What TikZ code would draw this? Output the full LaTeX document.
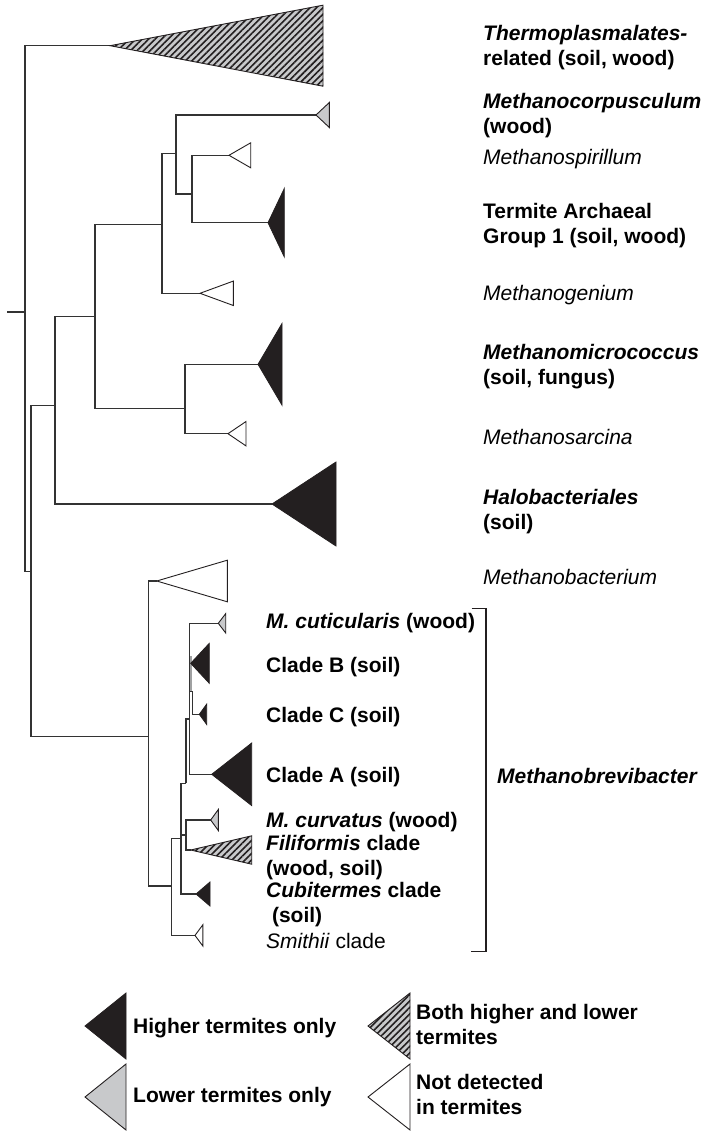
\documentclass[tikz,border=0pt]{standalone}
\usepackage{fontspec}
\setmainfont{Liberation Sans}
\usetikzlibrary{patterns.meta}

\definecolor{inkblack}{HTML}{231F20}
\definecolor{lowgray}{HTML}{C8C9CB}
\definecolor{branch}{HTML}{333333}

\tikzset{
  branchline/.style={draw=branch, line width=1.2pt},
  higher/.style={fill=inkblack, draw=inkblack, line width=0.8pt, line join=miter},
  lower/.style={fill=lowgray, draw=inkblack, line width=0.9pt},
  absent/.style={fill=white, draw=inkblack, line width=0.9pt},
  hatchfill/.style={pattern={Lines[angle=45,distance=4.6pt,line width=1.6pt]}, pattern color=inkblack},
  taxon/.style={anchor=west, align=left, inner sep=0pt, font=\fontsize{21}{25}\selectfont},
}

% collapsed clade: style, apex coordinate, length, half height
\newcommand\cladetri[4]{%
  \path[#1] (#2) -- ++(#3,-#4) -- ++(0,2*#4) -- cycle;}
% collapsed clade found in both termite groups (grey ground, hatched)
\newcommand\bothtri[3]{%
  \path[fill=lowgray] (#1) -- ++(#2,-#3) -- ++(0,2*#3) -- cycle;
  \path[hatchfill] (#1) -- ++(#2,-#3) -- ++(0,2*#3) -- cycle;
  \path[draw=inkblack, line width=0.9pt] (#1) -- ++(#2,-#3) -- ++(0,2*#3) -- cycle;}

\begin{document}
\begin{tikzpicture}[x=1pt, y=-1pt]
\useasboundingbox (0,0) rectangle (707,1131);

% ---------- tips (apex of each collapsed clade) ----------
\coordinate (tThermo) at (110,45.7);
\coordinate (tMcorp)  at (316,115);
\coordinate (tMspir)  at (229,155.3);
\coordinate (tTAG)    at (268,222.7);
\coordinate (tMgen)   at (200,293.3);
\coordinate (tMmicro) at (258,364.3);
\coordinate (tMsarc)  at (228,433.7);
\coordinate (tHalo)   at (272,504);
\coordinate (tMbact)  at (156.7,581);
\coordinate (tCutic)  at (218.3,623.3);
\coordinate (tCladeB) at (190.7,663.3);
\coordinate (tCladeC) at (199.3,714.3);
\coordinate (tCladeA) at (211.7,774.3);
\coordinate (tCurv)   at (210.7,820);
\coordinate (tFilif)  at (190.7,850);
\coordinate (tCubi)   at (196,894);
\coordinate (tSmith)  at (195,935.4);

% ---------- internal nodes ----------
\coordinate (stub) at (7,312);
\coordinate (root) at (25,312);
\coordinate (nA) at (31,571.7);
\coordinate (nB) at (55,405.7);
\coordinate (nC) at (95,316.7);
\coordinate (nD) at (162,224.7);
\coordinate (nE) at (185,408.7);
\coordinate (nF) at (176,153.3);
\coordinate (nG) at (192,194);
\coordinate (nM) at (148.3,736.7);
\coordinate (nN) at (171.7,886);
\coordinate (nP) at (181,838.3);
\coordinate (nQ) at (186,783.3);
\coordinate (nR) at (186,835);
\coordinate (nS) at (189.3,719);
\coordinate (nT) at (192.7,691.7);

% ---------- branches ----------
\draw[branchline] (stub) -- (root);
\draw[branchline] (tThermo) -| (root) |- (nA);
\draw[branchline] (nB) -| (nA) |- (nM);
\draw[branchline] (nC) -| (nB) |- (tHalo);
\draw[branchline] (nD) -| (nC) |- (nE);
\draw[branchline] (tMmicro) -| (nE) |- (tMsarc);
\draw[branchline] (nF) -| (nD) |- (tMgen);
\draw[branchline] (tMcorp) -| (nF) |- (nG);
\draw[branchline] (tMspir) -| (nG) |- (tTAG);

\draw[branchline] (tMbact) -| (nM) |- (nN);
\draw[branchline] (nP) -| (nN) |- (tSmith);
\draw[branchline] (nQ) -| (nP) |- (tCubi);
\draw[branchline] (nR) -- (nP |- nR);
\draw[branchline] (tCurv) -| (nR) |- (tFilif);
\draw[branchline] (nS) -| (nQ);
\draw[branchline] (tCutic) -| (nS) |- (tCladeA);
\draw[branchline] (tCladeB) -- (tCladeB -| nS);
\draw[branchline] (nS |- nT) -- (nT) |- (tCladeC);
\fill[lowgray!80!black] (189.6,656) rectangle (192,691);

% ---------- collapsed clades ----------
\bothtri{tThermo}{213}{40.5}
\cladetri{lower}{tMcorp}{13.3}{12.5}
\cladetri{absent}{tMspir}{21.7}{12.5}
\cladetri{higher}{tTAG}{16.3}{34.2}
\cladetri{absent}{tMgen}{33.3}{12.2}
\cladetri{higher}{tMmicro}{24}{40.8}
\cladetri{absent}{tMsarc}{18}{12.2}
\cladetri{higher}{tHalo}{64}{42}
\cladetri{absent}{tMbact}{70.6}{20.8}
\cladetri{lower}{tCutic}{7.4}{9.7}
\cladetri{higher}{tCladeB}{18.6}{20}
\cladetri{higher}{tCladeC}{7.4}{10.2}
\cladetri{higher}{tCladeA}{40}{31.3}
\cladetri{lower}{tCurv}{7.6}{10.5}
\bothtri{tFilif}{61}{14.2}
\cladetri{higher}{tCubi}{14}{12}
\cladetri{absent}{tSmith}{7.9}{10.7}

% ---------- taxon labels ----------
\node[taxon] (lThermo) at (483,47.5) {\textbf{\textit{Thermoplasmalates-}}\\\textbf{related (soil, wood)}};
\node[taxon] (lMcorp) at (483,115.5) {\textbf{\textit{Methanocorpusculum}}\\\textbf{(wood)}};
\node[taxon] (lMspir) at (483,159) {\textit{Methanospirillum}};
\node[taxon] (lTAG) at (483,226) {\textbf{Termite Archaeal}\\\textbf{Group 1 (soil, wood)}};
\node[taxon] (lMgen) at (483,295) {\textit{Methanogenium}};
\node[taxon] (lMmicro) at (483,367) {\textbf{\textit{Methanomicrococcus}}\\\textbf{(soil, fungus)}};
\node[taxon] (lMsarc) at (483,437) {\textit{Methanosarcina}};
\node[taxon] (lHalo) at (483,512) {\textbf{\textit{Halobacteriales}}\\\textbf{(soil)}};
\node[taxon] (lMbact) at (483,577) {\textit{Methanobacterium}};

\node[taxon] (lCutic) at (266,623.3) {\textbf{\textit{M. cuticularis} (wood)}};
\node[taxon] (lCladeB) at (266,667) {\textbf{Clade B (soil)}};
\node[taxon] (lCladeC) at (266,717) {\textbf{Clade C (soil)}};
\node[taxon] (lCladeA) at (266,777) {\textbf{Clade A (soil)}};
\node[taxon] (lCurv) at (266,822) {\textbf{\textit{M. curvatus} (wood)}};
\node[taxon] (lFilif) at (266,858) {\textbf{\textit{Filiformis} clade}\\\textbf{(wood, soil)}};
\node[taxon] (lCubi) at (266,905) {\textbf{\textit{Cubitermes} clade}\\\textbf{\ (soil)}};
\node[taxon] (lSmith) at (266,941) {\textit{Smithii} clade};

% ---------- genus bracket ----------
\coordinate (brTop) at (471.5,608.3);
\coordinate (brBot) at (470.7,951.4);
\draw[draw=inkblack, line width=1.1pt] (brTop) -- (486,608.3) -- (486,951.4) -- (brBot);
\node[taxon] (lMbrev) at (497,776) {\textbf{\textit{Methanobrevibacter}}};

% ---------- legend ----------
\coordinate (kHigher) at (85,1026);
\coordinate (kLower)  at (85,1097);
\coordinate (kBoth)   at (368,1026);
\coordinate (kAbsent) at (368,1097);
\cladetri{higher}{kHigher}{41}{33}
\cladetri{lower}{kLower}{41}{33}
\bothtri{kBoth}{42}{33}
\cladetri{absent}{kAbsent}{42}{33}
\node[taxon] (kHigherText) at (133,1028) {\textbf{Higher termites only}};
\node[taxon] (kLowerText) at (133,1097) {\textbf{Lower termites only}};
\node[taxon] (kBothText) at (416,1024) {\textbf{Both higher and lower}\\\textbf{termites}};
\node[taxon] (kAbsentText) at (416,1094) {\textbf{Not detected}\\\textbf{in termites}};
\end{tikzpicture}
\end{document}
